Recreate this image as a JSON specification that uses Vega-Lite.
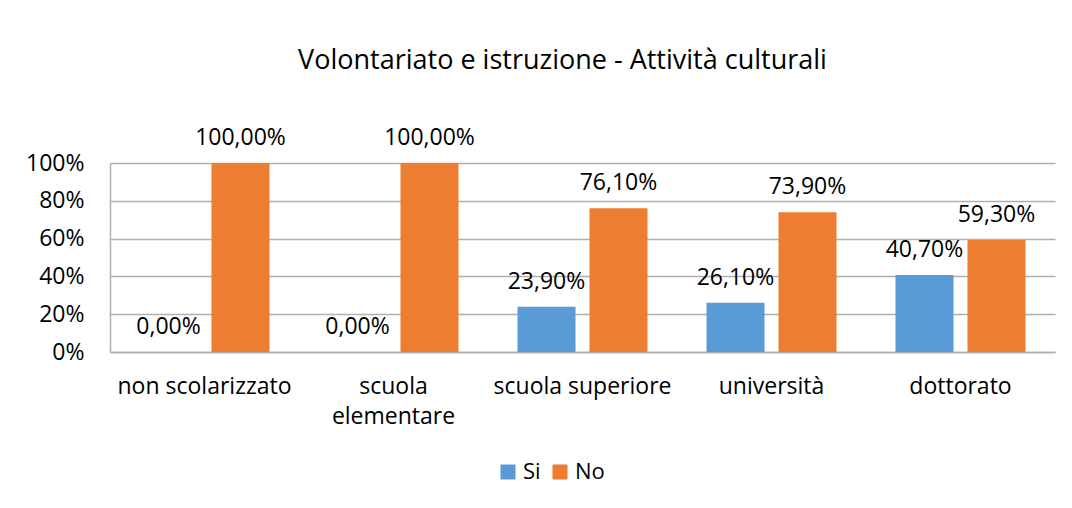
{
  "$schema": "https://vega.github.io/schema/vega-lite/v6.json",
  "width": 945,
  "height": 189,
  "autosize": {"type": "none"},
  "padding": {"left": 110, "top": 163, "right": 17, "bottom": 156},
  "background": "white",
  "config": {
    "locale": {"number": {"decimal": ",", "thousands": ".", "grouping": [3], "currency": ["", " €"]}},
    "font": "Open Sans",
    "view": {"stroke": null}
  },
  "title": {
    "text": "Volontariato e istruzione - Attività culturali",
    "fontSize": 27,
    "fontWeight": "normal",
    "color": "#000000",
    "anchor": "middle",
    "frame": "group",
    "dx": -20,
    "dy": 4,
    "offset": 56
  },
  "data": {
    "values": [
      {"cat": "non scolarizzato", "resp": "Si", "val": 0},
      {"cat": "non scolarizzato", "resp": "No", "val": 1},
      {"cat": "scuola elementare", "resp": "Si", "val": 0},
      {"cat": "scuola elementare", "resp": "No", "val": 1},
      {"cat": "scuola superiore", "resp": "Si", "val": 0.239},
      {"cat": "scuola superiore", "resp": "No", "val": 0.761},
      {"cat": "università", "resp": "Si", "val": 0.261},
      {"cat": "università", "resp": "No", "val": 0.739},
      {"cat": "dottorato", "resp": "Si", "val": 0.407},
      {"cat": "dottorato", "resp": "No", "val": 0.593}
    ]
  },
  "encoding": {
    "x": {
      "field": "cat",
      "type": "nominal",
      "sort": ["non scolarizzato", "scuola elementare", "scuola superiore", "università", "dottorato"],
      "scale": {"paddingInner": 0.312, "paddingOuter": 0.156},
      "axis": {
        "title": null,
        "labelAngle": 0,
        "ticks": false,
        "labelPadding": 23,
        "labelFontSize": 23,
        "labelColor": "#000000",
        "labelLineHeight": 30,
        "labelExpr": "datum.label == 'scuola elementare' ? ['scuola', 'elementare'] : datum.label",
        "domainColor": "#b0b0b0",
        "domainWidth": 1.5
      }
    },
    "xOffset": {
      "field": "resp",
      "type": "nominal",
      "sort": ["Si", "No"],
      "scale": {"paddingInner": 0.194, "paddingOuter": 0}
    },
    "y": {
      "field": "val",
      "type": "quantitative",
      "scale": {"domain": [0, 1]},
      "axis": {
        "title": null,
        "format": ".0%",
        "values": [0, 0.2, 0.4, 0.6, 0.8, 1],
        "ticks": false,
        "labelPadding": 26,
        "labelFontSize": 23,
        "labelColor": "#000000",
        "gridColor": "#b0b0b0",
        "gridWidth": 1.5,
        "domainColor": "#b0b0b0",
        "domainWidth": 1.5
      }
    },
    "color": {
      "field": "resp",
      "type": "nominal",
      "scale": {"domain": ["Si", "No"], "range": ["#5B9BD5", "#ED7D31"]},
      "legend": {
        "title": null,
        "orient": "none",
        "legendX": 387,
        "legendY": 298,
        "direction": "horizontal",
        "symbolType": "square",
        "symbolSize": 225,
        "symbolStrokeWidth": 0,
        "labelFontSize": 22,
        "labelColor": "#000000",
        "labelOffset": 4,
        "columnPadding": 8
      }
    }
  },
  "layer": [
    {"mark": {"type": "bar"}},
    {
      "mark": {"type": "text", "align": "center", "baseline": "bottom", "dy": -13, "fontSize": 23, "color": "#000000"},
      "encoding": {
        "text": {"field": "val", "type": "quantitative", "format": ".2%"},
        "color": {"value": "#000000"}
      }
    }
  ]
}
